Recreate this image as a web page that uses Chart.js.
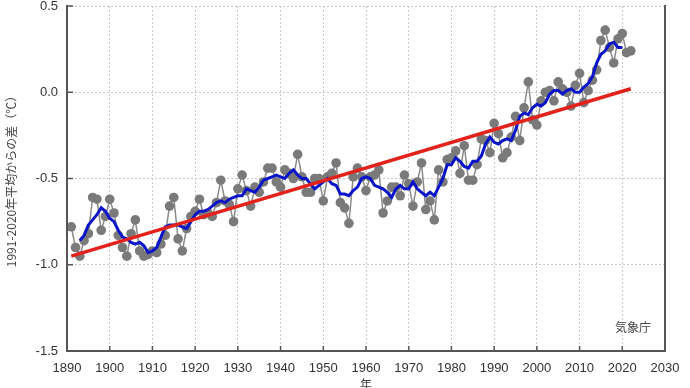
<!DOCTYPE html>
<html>
<head>
<meta charset="utf-8">
<script src="https://cdn.jsdelivr.net/npm/chart.js@4"></script>
<style>
  html, body { margin: 0; padding: 0; background: #fff; }
  #wrap { width: 690px; height: 388px; position: relative; }
</style>
</head>
<body>
<div id="wrap"><canvas id="c" width="690" height="388"></canvas></div>
<script>
// annual anomaly (deg C, vs 1991-2020 mean)
const years = [];
for (let y = 1891; y <= 2022; y++) years.push(y);

const anomaly = [
  -0.78, -0.90, -0.95, -0.86, -0.82, -0.61, -0.62, -0.80, -0.72, -0.62,
  -0.70, -0.83, -0.90, -0.95, -0.82, -0.74, -0.92, -0.95, -0.94, -0.92,
  -0.93, -0.88, -0.83, -0.66, -0.61, -0.85, -0.92, -0.79, -0.72, -0.69,
  -0.62, -0.71, -0.70, -0.72, -0.64, -0.51, -0.63, -0.65, -0.75, -0.56,
  -0.48, -0.57, -0.66, -0.55, -0.58, -0.52, -0.44, -0.44, -0.52, -0.55,
  -0.45, -0.47, -0.50, -0.36, -0.49, -0.58, -0.58, -0.50, -0.50, -0.63,
  -0.49, -0.47, -0.41, -0.64, -0.67, -0.76, -0.49, -0.44, -0.49, -0.57,
  -0.49, -0.48, -0.45, -0.70, -0.63, -0.55, -0.55, -0.60, -0.48, -0.53,
  -0.66, -0.52, -0.41, -0.68, -0.63, -0.74, -0.45, -0.52, -0.39, -0.38,
  -0.34, -0.47, -0.31, -0.51, -0.51, -0.42, -0.27, -0.28, -0.35, -0.18,
  -0.24, -0.38, -0.35, -0.26, -0.14, -0.28, -0.09, 0.06, -0.16, -0.19,
  -0.05, 0.00, 0.01, -0.05, 0.06, 0.02, 0.00, -0.08, 0.04, 0.11,
  -0.06, 0.01, 0.07, 0.13, 0.30, 0.36, 0.26, 0.17, 0.31, 0.34,
  0.23, 0.24
];

// 5-year running mean, 1893-2020 (blue)
const meanYears = years.slice(2, -2);
const runningMean = [
  -0.86, -0.83, -0.77, -0.74, -0.71, -0.67, -0.69, -0.73,
  -0.75, -0.80, -0.84, -0.85, -0.87, -0.88, -0.87, -0.89, -0.93, -0.92,
  -0.90, -0.84, -0.78, -0.77, -0.77, -0.77, -0.78, -0.79, -0.75, -0.71,
  -0.69, -0.69, -0.68, -0.66, -0.64, -0.63, -0.64, -0.62, -0.61, -0.60,
  -0.60, -0.56, -0.57, -0.58, -0.55, -0.51, -0.50, -0.49, -0.48, -0.49,
  -0.50, -0.47, -0.45, -0.48, -0.50, -0.50, -0.53, -0.56, -0.54, -0.52,
  -0.50, -0.53, -0.54, -0.59, -0.59, -0.60, -0.57, -0.55, -0.50, -0.49,
  -0.50, -0.54, -0.55, -0.56, -0.58, -0.61, -0.56, -0.54, -0.56, -0.56,
  -0.52, -0.56, -0.58, -0.60, -0.58, -0.60, -0.55, -0.50, -0.42, -0.42,
  -0.38, -0.40, -0.43, -0.44, -0.40, -0.40, -0.37, -0.30, -0.26, -0.29,
  -0.30, -0.28, -0.27, -0.28, -0.22, -0.14, -0.12, -0.13, -0.09, -0.07,
  -0.08, -0.06, -0.01, 0.01, 0.01, -0.01, 0.01, 0.02, 0.00, 0.00,
  0.03, 0.05, 0.09, 0.17, 0.22, 0.24, 0.28, 0.29, 0.26, 0.26
];

// long-term trend line (red)
const trendYears = [1891, 2022];
const trendValues = [-0.95, 0.02];

const xTicks = [1890, 1900, 1910, 1920, 1930, 1940, 1950, 1960, 1970, 1980, 1990, 2000, 2010, 2020, 2030];
const yTicks = [-1.5, -1.0, -0.5, 0.0, 0.5];

const pts = (xs, ys) => xs.map((x, i) => ({ x: x, y: ys[i] }));

// frame (left, bottom, right) and inward ticks
const framePlugin = {
  id: 'frame',
  afterDatasetsDraw(chart) {
    const { ctx, chartArea: a, scales } = chart;
    ctx.save();
    ctx.strokeStyle = '#555';
    ctx.lineWidth = 2;
    ctx.beginPath();
    ctx.moveTo(a.left, a.top - 1);
    ctx.lineTo(a.left, a.bottom);
    ctx.lineTo(a.right, a.bottom);
    ctx.lineTo(a.right, a.top - 1);
    ctx.stroke();
    ctx.lineWidth = 1.5;
    ctx.beginPath();
    yTicks.forEach(v => {
      const y = scales.y.getPixelForValue(v);
      ctx.moveTo(a.left, y);
      ctx.lineTo(a.left + 6, y);
    });
    xTicks.forEach(v => {
      const x = scales.x.getPixelForValue(v);
      ctx.moveTo(x, a.bottom);
      ctx.lineTo(x, a.bottom - 5);
    });
    ctx.stroke();
    ctx.fillStyle = '#444';
    ctx.font = '12px "Noto Sans CJK JP"';
    ctx.textAlign = 'right';
    ctx.textBaseline = 'middle';
    ctx.fillText('気象庁', a.right - 14, a.bottom - 24);
    ctx.restore();
  }
};

new Chart(document.getElementById('c'), {
  type: 'line',
  data: {
    datasets: [
      {
        label: 'trend',
        data: pts(trendYears, trendValues),
        borderColor: '#e3221c',
        borderWidth: 3.5,
        pointRadius: 0,
        order: 0
      },
      {
        label: '5-year mean',
        data: pts(meanYears, runningMean),
        borderColor: '#0a14c8',
        borderWidth: 3,
        pointRadius: 0,
        order: 1
      },
      {
        label: 'annual',
        data: pts(years, anomaly),
        borderColor: '#8a8a8a',
        borderWidth: 1.5,
        pointRadius: 4.8,
        pointBackgroundColor: '#7a7a7a',
        pointBorderColor: '#7a7a7a',
        pointBorderWidth: 0,
        order: 2
      }
    ]
  },
  options: {
    responsive: false,
    animation: false,
    devicePixelRatio: 1,
    layout: { padding: { top: 0, right: 25, left: 0, bottom: 0 } },
    plugins: {
      legend: { display: false },
      tooltip: { enabled: false }
    },
    scales: {
      x: {
        type: 'linear',
        min: 1890,
        max: 2030,
        afterBuildTicks: s => { s.ticks = xTicks.map(v => ({ value: v })); },
        afterFit: s => { s.height = 37; },
        ticks: {
          color: '#333',
          font: { family: '"Liberation Sans", Arial', size: 13 },
          padding: 10,
          maxRotation: 0,
          autoSkip: false,
          callback: v => String(v)
        },
        grid: { color: '#c8c8c8', lineWidth: 1, drawTicks: false },
        border: { display: false, dash: [2, 2] },
        title: {
          display: true,
          text: '年',
          color: '#444',
          font: { family: '"Noto Sans CJK JP"', size: 12 },
          padding: { top: 0, bottom: -4 }
        }
      },
      y: {
        type: 'linear',
        min: -1.5,
        max: 0.5,
        afterBuildTicks: s => { s.ticks = yTicks.map(v => ({ value: v })); },
        afterFit: s => { s.width = 67; s.paddingTop = 6; s.paddingBottom = 0; },
        ticks: {
          color: '#333',
          font: { family: '"Liberation Sans", Arial', size: 13 },
          padding: 9,
          autoSkip: false,
          callback: v => v.toFixed(1)
        },
        grid: { color: '#c8c8c8', lineWidth: 1, drawTicks: false },
        border: { display: false, dash: [2, 2] },
        title: {
          display: true,
          text: '1991-2020年平均からの差（℃）',
          color: '#444',
          font: { family: '"Noto Sans CJK JP"', size: 12 },
          padding: { top: 4, bottom: 0 }
        }
      }
    }
  },
  plugins: [framePlugin]
});
</script>
</body>
</html>
